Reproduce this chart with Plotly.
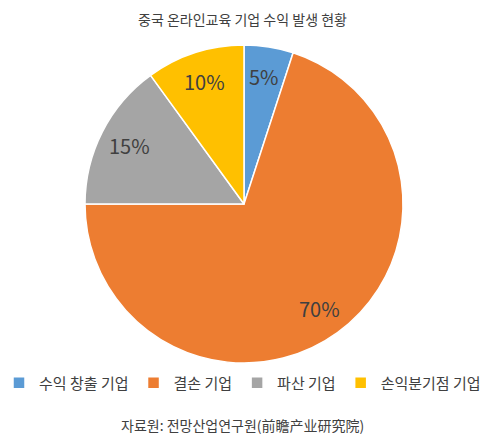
import math
import plotly.graph_objects as go

categories = ["수익 창출 기업", "결손 기업", "파산 기업", "손익분기점 기업"]
values = [5, 70, 15, 10]
colors = ["#5B9BD5", "#ED7D31", "#A5A5A5", "#FFC000"]

FONT = "Noto Sans CJK KR"
W, H = 485, 447
CX, CY, R = 244, 204, 159  # pie centre / radius in pixels

fig = go.Figure(go.Pie(
    labels=categories,
    values=values,
    sort=False,
    direction="clockwise",
    rotation=0,
    marker=dict(colors=colors, line=dict(color="white", width=1.5)),
    textinfo="none",
    domain=dict(x=[(CX - R) / W, (CX + R) / W], y=[(H - CY - R) / H, (H - CY + R) / H]),
    hoverinfo="label+percent",
))

# percentage labels placed like Excel's best fit (about 0.81 of the radius)
total = sum(values)
annotations = []
cum = 0
for v in values:
    mid = (cum + v / 2) / total * 2 * math.pi
    cum += v
    px = CX + 0.81 * R * math.sin(mid)
    py = CY - 0.81 * R * math.cos(mid)
    annotations.append(dict(text=f"{round(v / total * 100)}%", x=px / W, y=1 - py / H,
                            xref="paper", yref="paper", showarrow=False,
                            xanchor="center", yanchor="middle",
                            font=dict(size=20, color="#404040", family=FONT)))

annotations.append(dict(text="자료원: 전망산업연구원(前瞻产业研究院)", x=0.5, xref="paper",
                        y=(H - 425) / H, yref="paper", showarrow=False, xanchor="center",
                        yanchor="middle", font=dict(size=14, color="#404040", family=FONT)))

fig.update_layout(
    width=W, height=H,
    margin=dict(l=0, r=0, t=0, b=0),
    paper_bgcolor="white",
    font=dict(family=FONT, color="#404040"),
    title=dict(text="중국 온라인교육 기업 수익 발생 현황", x=0.5, xanchor="center",
               y=1 - 20 / H, yanchor="middle", font=dict(size=14, color="#404040", family=FONT)),
    showlegend=True,
    legend=dict(orientation="h", x=0.5, xanchor="center", y=(H - 383) / H, yanchor="middle",
                font=dict(size=15, color="#404040", family=FONT), itemwidth=30,
                tracegroupgap=0, traceorder="normal"),
    annotations=annotations,
)

fig.write_html("out.html", config={"displayModeBar": False},
               post_script="document.body.style.margin='0';")
